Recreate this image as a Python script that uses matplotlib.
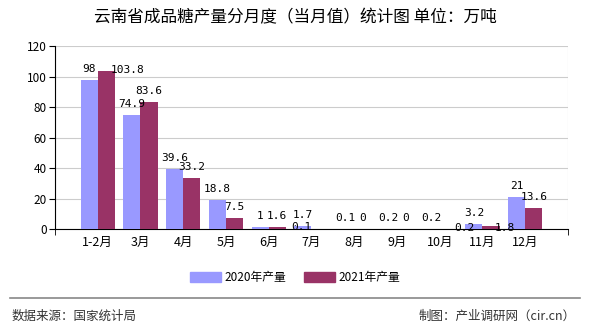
import numpy as np
import matplotlib
matplotlib.use("Agg")
import matplotlib.pyplot as plt
from matplotlib.patches import Patch

plt.rcParams['font.family'] = ['Noto Sans CJK SC', 'DejaVu Sans']

months = ["1-2月", "3月", "4月", "5月", "6月", "7月", "8月", "9月", "10月", "11月", "12月"]
prod_2020 = [98, 74.9, 39.6, 18.8, 1, 1.7, 0.1, 0.2, 0.2, 3.2, 21]
prod_2021 = [103.8, 83.6, 33.2, 7.5, 1.6, 0.1, 0, 0, 0.2, 1.8, 13.6]
label_2020 = ["98", "74.9", "39.6", "18.8", "1", "1.7", "0.1", "0.2", "0.2", "3.2", "21"]
label_2021 = ["103.8", "83.6", "33.2", "7.5", "1.6", "0.1", "0", "0", "0.2", "1.8", "13.6"]

c2020 = "#9999FF"
c2021 = "#993366"

# labels pushed aside to avoid collisions (series, index) -> pixel shift from bar top
moved = {(1, 0): (21, 1), (1, 5): (-19, 2), (1, 8): (16, 1), (1, 9): (14, -2)}

fig = plt.figure(figsize=(5.9, 3.3), dpi=100)
ax = fig.add_axes([0.0932, 0.306, 0.8695, 0.5546])

x = np.arange(1, len(months) + 1)
w = 0.4
b1 = ax.bar(x - w / 2, prod_2020, width=w, color=c2020, zorder=3)
b2 = ax.bar(x + w / 2, prod_2021, width=w, color=c2021, zorder=3)

for s, (bars, labels) in enumerate(((b1, label_2020), (b2, label_2021))):
    for i, (rect, txt) in enumerate(zip(bars, labels)):
        pos = (rect.get_x() + rect.get_width() / 2, rect.get_height())
        if (s, i) in moved:
            off, va = moved[(s, i)], "center"
        else:
            off, va = (0, 6), "bottom"
        ax.annotate(txt, pos, xytext=off, textcoords="offset pixels",
                    ha="center", va=va, fontsize=8,
                    family="DejaVu Sans Mono", zorder=4)

ax.set_xlim(0, 12)
ax.set_ylim(0, 120)
ax.set_yticks(range(0, 121, 20))
ax.set_xticks(x)
ax.set_xticklabels(months)
ax.set_xticks(np.arange(0, 13), minor=True)
ax.tick_params(axis="x", which="major", length=0, labelsize=9, pad=5)
ax.tick_params(axis="x", which="minor", length=4, direction="out")
ax.tick_params(axis="y", length=4, labelsize=8.5, pad=2)

ax.grid(True, which="minor", axis="x", color="#cccccc", lw=0.8, zorder=0)
ax.grid(True, which="major", axis="y", color="#cccccc", lw=0.8, zorder=0)
for sp in ("top", "right"):
    ax.spines[sp].set_visible(False)
ax.spines["left"].set_color("black")
ax.spines["bottom"].set_color("black")

fig.text(0.5, 0.945, "云南省成品糖产量分月度（当月值）统计图 单位：万吨",
         ha="center", va="center", fontsize=12)

handles = [Patch(color=c2020, label="2020年产量"), Patch(color=c2021, label="2021年产量")]
fig.legend(handles=handles, loc="center", bbox_to_anchor=(0.5, 0.16), ncol=2,
           frameon=False, fontsize=8.5, handlelength=2.6, handleheight=0.9,
           columnspacing=1.5, handletextpad=0.3)

fig.add_artist(plt.Line2D([0.017, 0.983], [0.097, 0.097], color="#888888", lw=1.2))
fig.text(0.019, 0.042, "数据来源：国家统计局", ha="left", va="center", fontsize=9, color="#333333")
fig.text(0.976, 0.042, "制图：产业调研网（cir.cn）", ha="right", va="center", fontsize=9, color="#333333")

fig.savefig("out.png", dpi=100)
